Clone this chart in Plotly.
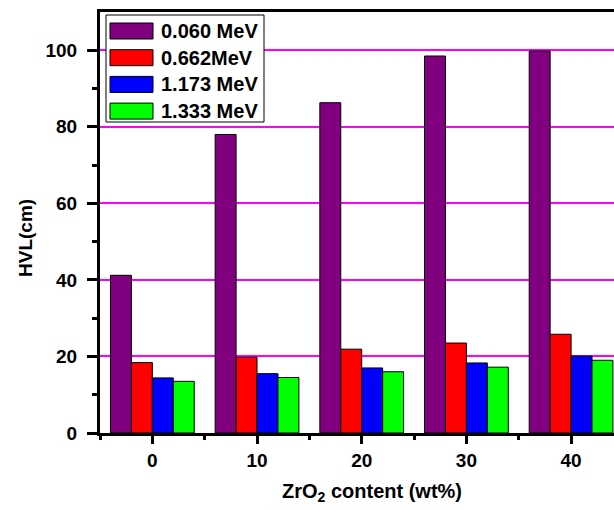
import plotly.graph_objects as go

categories = [0, 10, 20, 30, 40]
series_names = ["0.060 MeV", "0.662MeV", "1.173 MeV", "1.333 MeV"]
series_colors = ["#800080", "#FF0000", "#0000FF", "#00FF00"]
hvl_0060 = [41.2, 78.0, 86.3, 98.5, 99.8]
hvl_0662 = [18.4, 19.8, 21.9, 23.5, 25.8]
hvl_1173 = [14.4, 15.5, 17.0, 18.3, 20.1]
hvl_1333 = [13.5, 14.5, 16.0, 17.2, 19.0]
series_values = [hvl_0060, hvl_0662, hvl_1173, hvl_1333]
y_ticks = [0, 20, 40, 60, 80, 100]

FONT = "Liberation Sans, Arial, sans-serif"
W, H = 614, 510
ML, MR, MT, MB = 100, 0, 12, 77
PW, PH = W - ML - MR, H - MT - MB

def px(x):
    return (x - ML) / PW

def py(y):
    return (H - MB - y) / PH

fig = go.Figure()
for name, color, vals in zip(series_names, series_colors, series_values):
    fig.add_trace(go.Bar(x=categories, y=vals, name=name,
                         marker=dict(color=color, line=dict(color="black", width=1)),
                         showlegend=False, hoverinfo="skip"))

# custom legend (box + swatches + labels)
shapes = [dict(type="rect", xref="paper", yref="paper",
               x0=px(106), x1=px(264), y0=py(122), y1=py(15),
               line=dict(color="black", width=1), fillcolor="white", layer="above")]
annotations = []
for i, (name, color) in enumerate(zip(series_names, series_colors)):
    cy = 31 + i * 26.7
    shapes.append(dict(type="rect", xref="paper", yref="paper",
                       x0=px(110), x1=px(153), y0=py(cy + 8), y1=py(cy - 8),
                       line=dict(color="black", width=1), fillcolor=color, layer="above"))
    annotations.append(dict(x=px(159), y=py(cy), xref="paper", yref="paper",
                            text="<b>%s</b>" % name, showarrow=False,
                            xanchor="left", yanchor="middle",
                            font=dict(family=FONT, size=20, color="black")))

annotations.append(dict(x=px(372), y=py(492), xref="paper", yref="paper",
                        text="<b>ZrO<sub>2</sub> content (wt%)</b>", showarrow=False,
                        xanchor="center", yanchor="middle",
                        font=dict(family=FONT, size=20, color="black")))
annotations.append(dict(x=px(25), y=py(238), xref="paper", yref="paper",
                        text="<b>HVL(cm)</b>", showarrow=False, textangle=-90,
                        xanchor="center", yanchor="middle",
                        font=dict(family=FONT, size=19, color="black")))

fig.update_layout(
    width=W, height=H,
    margin=dict(l=ML, r=MR, t=MT, b=MB, autoexpand=False),
    paper_bgcolor="white", plot_bgcolor="white",
    barmode="group", bargap=0.2, bargroupgap=0,
    shapes=shapes, annotations=annotations,
    font=dict(family=FONT, color="black"),
)
fig.update_xaxes(
    automargin=False,
    range=[-5, 44.1], tickvals=categories,
    ticktext=["<b>%d</b>" % c for c in categories],
    tickfont=dict(family=FONT, size=19, color="black"),
    showline=True, linecolor="black", linewidth=3, mirror=True,
    ticks="outside", ticklen=8, tickwidth=3, tickcolor="black",
    minor=dict(tickvals=[-5, 5, 15, 25, 35], ticks="outside", ticklen=4, tickwidth=3, tickcolor="black"),
    showgrid=False, zeroline=False,
)
fig.update_yaxes(
    automargin=False,
    range=[0, 110], tickvals=y_ticks,
    ticktext=["<b>%d</b>" % t for t in y_ticks],
    tickfont=dict(family=FONT, size=19, color="black"),
    ticklabelstandoff=6,
    showline=True, linecolor="black", linewidth=3,
    ticks="outside", ticklen=10, tickwidth=3, tickcolor="black",
    minor=dict(tickvals=[10, 30, 50, 70, 90], ticks="outside", ticklen=5, tickwidth=3,
               tickcolor="black", showgrid=False),
    showgrid=True, gridcolor="#FF00FF", gridwidth=1.5, zeroline=False,
)

fig.write_html("out.html", config={"displayModeBar": False},
               post_script="document.body.style.margin='0';document.body.style.overflow='hidden';")
